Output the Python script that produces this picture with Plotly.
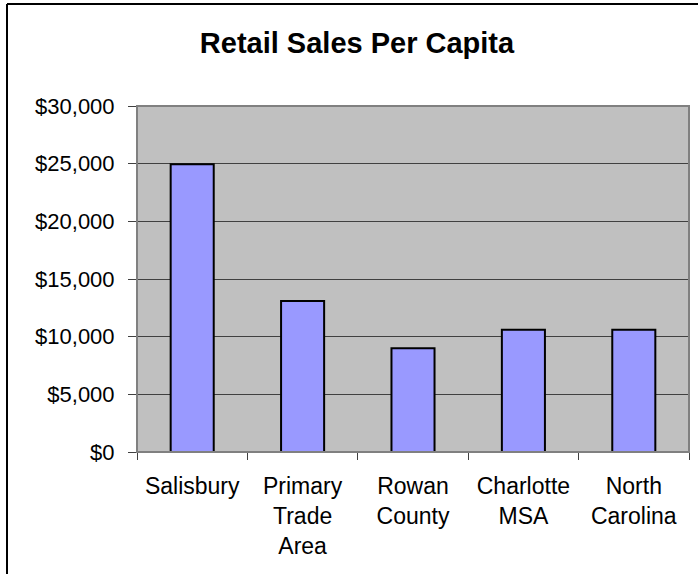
import plotly.graph_objects as go

# Retail sales per capita by area
areas = ["Salisbury", "Primary<br>Trade<br>Area", "Rowan<br>County", "Charlotte<br>MSA", "North<br>Carolina"]
sales_per_capita = [24950, 13100, 9000, 10600, 10600]
y_ticks = [0, 5000, 10000, 15000, 20000, 25000, 30000]
y_tick_labels = ["$0", "$5,000", "$10,000", "$15,000", "$20,000", "$25,000", "$30,000"]

W, H = 698, 574
L, R, T, B = 137, 9, 106, 122
pw, ph = W - L - R, H - T - B

def px_x(x):
    return (x - L) / pw

def px_y(y):
    return (H - B - y) / ph

fig = go.Figure(
    go.Bar(
        x=areas,
        y=sales_per_capita,
        marker=dict(color="#9999FF", line=dict(color="#000000", width=2)),
        hoverinfo="skip",
    )
)

# outer chart frame (left and top edges)
frame_x, frame_y = px_x(7), px_y(4)
fig.add_shape(type="line", xref="paper", yref="paper", x0=frame_x, x1=frame_x,
              y0=-1, y1=frame_y, line=dict(color="#000000", width=2), layer="above")
fig.add_shape(type="line", xref="paper", yref="paper", x0=frame_x, x1=1.2,
              y0=frame_y, y1=frame_y, line=dict(color="#000000", width=2), layer="above")
# plot-area border
fig.add_shape(type="rect", xref="paper", yref="paper", x0=0, x1=1, y0=0, y1=1,
              line=dict(color="#808080", width=2), layer="above")

fig.update_layout(
    width=W, height=H,
    margin=dict(l=L, r=R, t=T, b=B),
    paper_bgcolor="#FFFFFF",
    plot_bgcolor="#C0C0C0",
    font=dict(family="Liberation Sans, Arial, sans-serif", color="#000000", size=22),
    bargap=0.61,
    showlegend=False,
    title=dict(
        text="<b>Retail Sales Per Capita</b>",
        font=dict(size=29, family="Liberation Sans, Arial, sans-serif", color="#000000"),
        x=px_x(357), xref="paper", xanchor="center",
        y=1 - 43 / H, yref="container", yanchor="middle",
    ),
    xaxis=dict(
        type="category",
        tickson="boundaries",
        ticks="outside", ticklen=7, tickcolor="#404040", tickwidth=1,
        showgrid=False, zeroline=False, showline=False,
        tickfont=dict(size=23),
        ticklabelstandoff=18,
    ),
    yaxis=dict(
        range=[0, 30000],
        tickvals=y_ticks,
        ticktext=y_tick_labels,
        ticks="outside", ticklen=8, tickcolor="#404040", tickwidth=1,
        showgrid=True, gridcolor="#404040", gridwidth=1,
        zeroline=False, showline=False,
        tickfont=dict(size=22),
        ticklabelstandoff=9,
    ),
)

fig.write_html("out.html")
